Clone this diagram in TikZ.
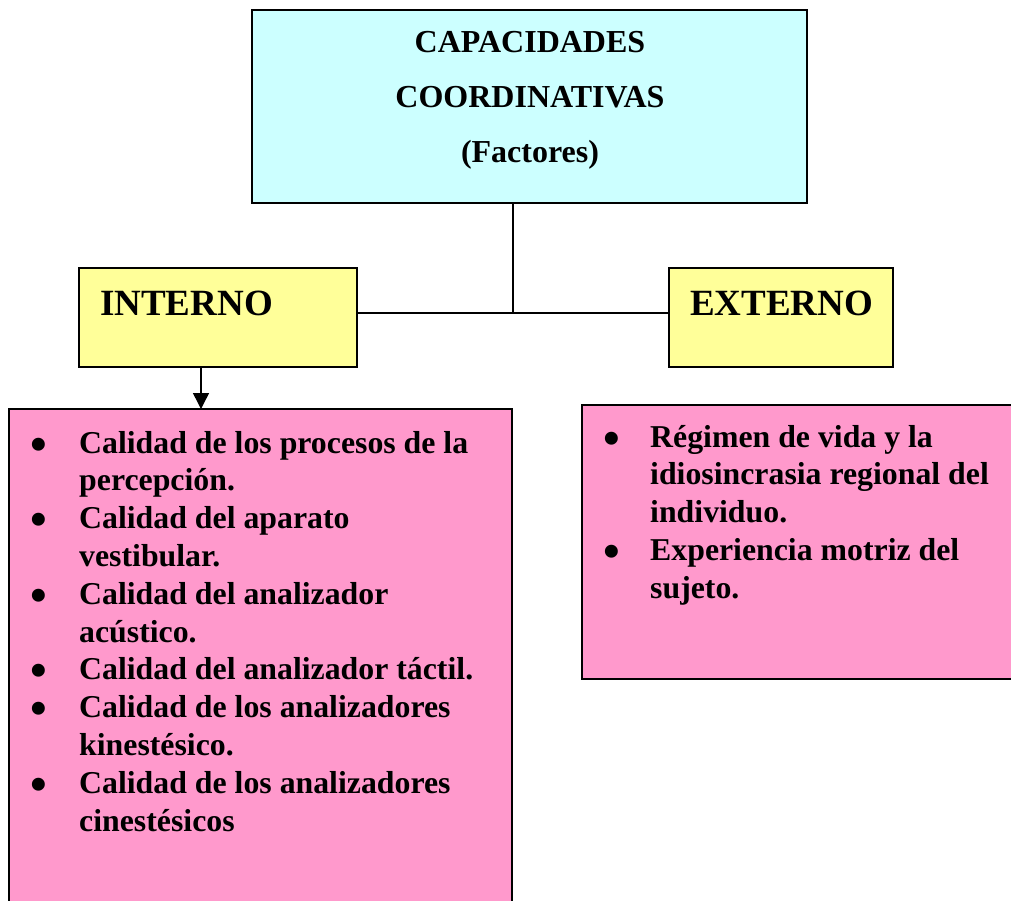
\documentclass[tikz,border=0pt]{standalone}
\usepackage{fontspec}
\setmainfont{Liberation Serif}
\usetikzlibrary{arrows.meta}
\definecolor{cyanbox}{HTML}{CCFFFF}
\definecolor{yellowbox}{HTML}{FFFF99}
\definecolor{pinkbox}{HTML}{FF99CC}
\newcommand{\bigbul}{\smash{\raisebox{-7pt}{\scalebox{1.5}{\textbullet}}}}
\newcommand{\bulL}{\makebox[49pt][l]{\bigbul}}
\newcommand{\bulR}{\makebox[47pt][l]{\bigbul}}
\tikzset{
  box/.style={draw=black, line width=1.5pt, inner sep=0pt, outer sep=0pt, anchor=north west},
  conn/.style={draw=black, line width=1.5pt},
  bodytext/.style={anchor=base west, inner sep=0pt, font=\fontsize{31.8}{37.8}\selectfont\bfseries},
  headtext/.style={anchor=base west, inner sep=0pt, font=\fontsize{37}{44}\selectfont\bfseries}
}
\begin{document}
\begin{tikzpicture}[x=1pt,y=-1pt]
\useasboundingbox (0,0) rectangle (1011,901);
% boxes
\node[box, fill=cyanbox, minimum width=555pt, minimum height=193pt] (top) at (252,10) {};
\node[box, fill=yellowbox, minimum width=278pt, minimum height=99pt] (int) at (79,268) {};
\node[box, fill=yellowbox, minimum width=224pt, minimum height=99pt] (ext) at (669,268) {};
\node[box, fill=pinkbox, minimum width=503pt, minimum height=530pt] (lp) at (9,409) {};
\node[box, fill=pinkbox, minimum width=460pt, minimum height=274pt] (rp) at (582,405) {};
% texts
\node[anchor=base, inner sep=0pt, font=\fontsize{32}{55}\selectfont\bfseries] (title) at (530,53)
  {\begin{tabular}[t]{@{}c@{}}CAPACIDADES\\COORDINATIVAS\\(Factores)\end{tabular}};
\node[headtext] (intt) at (100,315) {INTERNO};
\node[headtext] (extt) at (690,315) {EXTERNO};
\node[bodytext] (lt) at (30,453) {\begin{tabular}[t]{@{}l@{}l@{}}
\bulL & Calidad de los procesos de la\\
 & percepción.\\
\bulL & Calidad del aparato\\
 & vestibular.\\
\bulL & Calidad del analizador\\
 & acústico.\\
\bulL & Calidad del analizador táctil.\\
\bulL & Calidad de los analizadores\\
 & kinestésico.\\
\bulL & Calidad de los analizadores\\
 & cinestésicos
\end{tabular}};
\node[bodytext] (rt) at (603,447) {\begin{tabular}[t]{@{}l@{}l@{}}
\bulR & Régimen de vida y la\\
 & idiosincrasia regional del\\
 & individuo.\\
\bulR & Experiencia motriz del\\
 & sujeto.
\end{tabular}};
% connectors
\coordinate (j) at (513,313);
\coordinate (a) at (201,367);
\draw[conn] (top.south -| j) -- (j);
\draw[conn] (int.east |- j) -- (ext.west |- j);
\draw[conn, -{Triangle[width=16pt,length=16pt]}] (int.south -| a) -- (lp.north -| a);
\end{tikzpicture}
\end{document}
